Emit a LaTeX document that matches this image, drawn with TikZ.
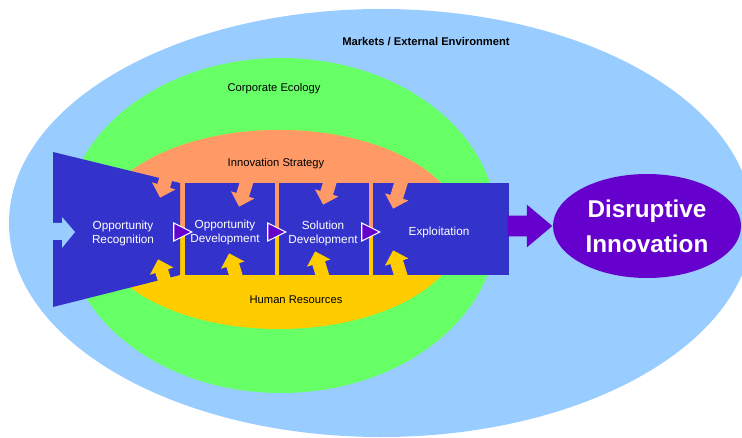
\documentclass[tikz,border=0pt]{standalone}
\usepackage{fontspec}
\setmainfont{Liberation Sans}
\usetikzlibrary{shapes.geometric}
\usetikzlibrary{shapes.arrows}

\definecolor{skyblue}{HTML}{99CCFF}
\definecolor{ecogreen}{HTML}{66FF66}
\definecolor{stratorange}{HTML}{FF9966}
\definecolor{hryellow}{HTML}{FFCC00}
\definecolor{procblue}{HTML}{3333CC}
\definecolor{innopurple}{HTML}{6600CC}

\begin{document}
\begin{tikzpicture}[x=0.75pt, y=-0.75pt,
  layer/.style={font=\fontsize{8.4}{10}\selectfont},
  stage/.style={fill=procblue, minimum height=69pt, inner sep=0pt},
  stagetext/.style={text=white, align=center, font=\fontsize{8.8}{10.5}\selectfont},
  push/.style={single arrow, fill=#1, inner xsep=0pt, inner ysep=4.75pt,
    single arrow head extend=4.25pt, minimum height=22.5pt, anchor=tip},
  flowtri/.pic={\filldraw[fill=innopurple, draw=white, thick] (-11,-6) -- (-11,12) -- (7,3) -- cycle;}]
\useasboundingbox (0,0) rectangle (742,438);

% nested environments
\fill[skyblue] (381,223) ellipse [x radius=372, y radius=214];
\fill[ecogreen] (281,225.5) ellipse [x radius=216, y radius=167.5];
\fill[hryellow] (279,229.5) ellipse [x radius=183, y radius=99.5];
\begin{scope}
\clip (80,120) rectangle (480,229.5);
\fill[stratorange] (279,229.5) ellipse [x radius=183, y radius=99.5];
\end{scope}

\node[layer, font=\bfseries\fontsize{8.4}{10}\selectfont] (mk) at (426,42) {Markets / External Environment};
\node[layer] (ce) at (274,89) {Corporate Ecology};
\node[layer] (is) at (276,164) {Innovation Strategy};
\node[layer] (hr) at (296,300) {Human Resources};

% funnel with inlet
\fill[procblue] (53,152) -- (180,183) -- (180,275) -- (53,307) -- cycle;
\fill[skyblue] (50,223) -- (62,223) -- (62,217) -- (75,232) -- (62,248) -- (62,240) -- (50,240) -- cycle;

\node[stage, minimum width=67.5pt] (od) at (230,229) {};
\node[stage, minimum width=67.5pt] (sd) at (324,229) {};
\node[stage, minimum width=102pt] (ex) at (441,229) {};

% strategy pushes down, resources push up
\node[push=stratorange, rotate=-107] (s1) at (160,198) {};
\node[push=stratorange, rotate=-107] (s2) at (239,207) {};
\node[push=stratorange, rotate=-107] (s3) at (323,205) {};
\node[push=stratorange, rotate=-107] (s4) at (393,209) {};
\node[push=hryellow, rotate=107] (h1) at (158,259) {};
\node[push=hryellow, rotate=107] (h2) at (229,253) {};
\node[push=hryellow, rotate=107] (h3) at (315,251) {};
\node[push=hryellow, rotate=107] (h4) at (393,250) {};

\pic at (od.west) {flowtri};
\pic at (sd.west) {flowtri};
\pic at (ex.west) {flowtri};

\node[stagetext] (or) at (123,233) {Opportunity\\Recognition};
\node[stagetext] (odt) at (225,232) {Opportunity\\Development};
\node[stagetext] (sdt) at (323,233) {Solution\\Development};
\node[stagetext] (ext) at (439,232) {Exploitation};

\node[ellipse, fill=innopurple, minimum width=141pt, minimum height=78pt, inner sep=0pt,
  text=white, align=center, font=\bfseries\fontsize{18.2}{26}\selectfont] (di) at (647,226) {Disruptive\\Innovation};
\path (ex.east) -- (di.west) node[pos=1, anchor=tip, single arrow, fill=innopurple, inner xsep=0pt, inner ysep=7.5pt,
  single arrow head extend=8.25pt, single arrow tip angle=80, minimum height=33.5pt] (fl) {};

\end{tikzpicture}
\end{document}
